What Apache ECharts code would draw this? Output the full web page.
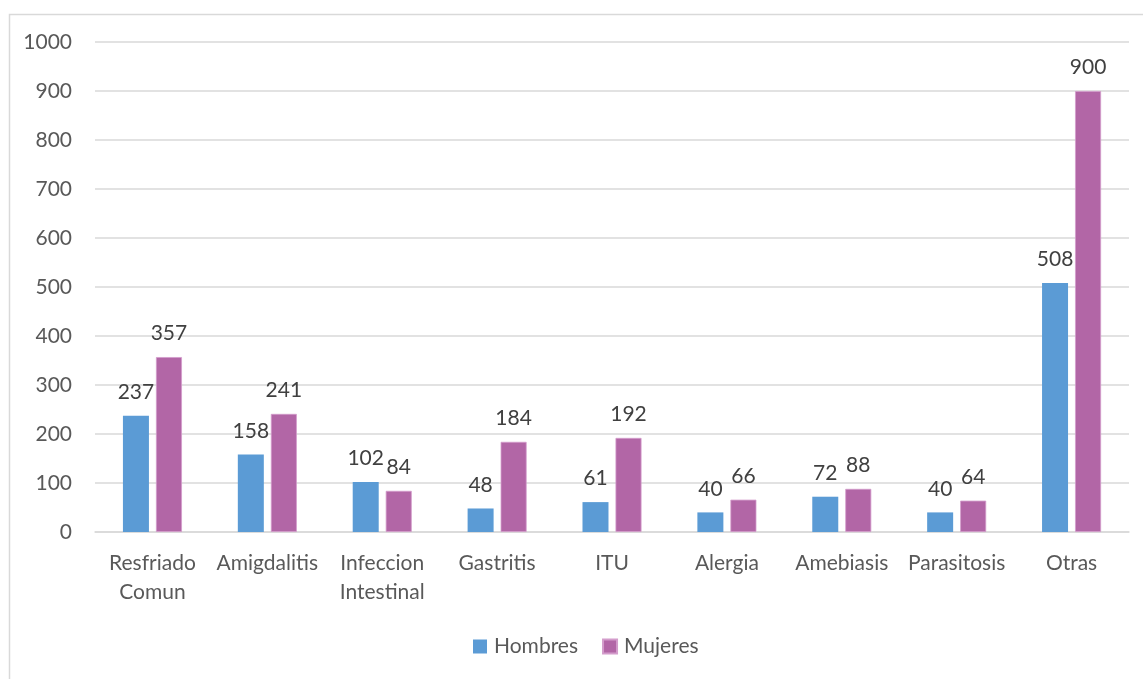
<!DOCTYPE html>
<html>
<head>
<meta charset="utf-8">
<script src="https://cdn.jsdelivr.net/npm/echarts@6/dist/echarts.min.js"></script>
<style>
  html, body { margin: 0; padding: 0; background: #ffffff; }
  #chart { width: 1143px; height: 679px; }
</style>
</head>
<body>
<div id="chart"></div>
<script>
// Consultas por diagnóstico, separadas por sexo
const categories = ['Resfriado\nComun', 'Amigdalitis', 'Infeccion\nIntestinal', 'Gastritis', 'ITU', 'Alergia', 'Amebiasis', 'Parasitosis', 'Otras'];
const hombres = [237, 158, 102, 48, 61, 40, 72, 40, 508];
const mujeres = [357, 241, 84, 184, 192, 66, 88, 64, 900];
const seriesNames = ['Hombres', 'Mujeres'];

const FONT = 'Lato, "Open Sans", sans-serif';
const chart = echarts.init(document.getElementById('chart'), null, { renderer: 'canvas' });

const labelStyle = {
  show: true,
  position: 'top',
  distance: 13,
  color: '#404040',
  fontSize: 21,
  fontFamily: FONT
};

chart.setOption({
  animation: false,
  textStyle: { fontFamily: FONT },
  graphic: [{
    type: 'rect',
    left: 7,
    top: 12,
    shape: { width: 1200, height: 720 },
    style: { fill: 'none', stroke: '#d9d9d9', lineWidth: 1.5 },
    silent: true,
    z: -1
  }],
  grid: { left: 95, right: 14, top: 42, bottom: 147, containLabel: false },
  legend: {
    data: seriesNames,
    bottom: 17,
    left: 468,
    itemWidth: 14,
    itemHeight: 14,
    itemGap: 24,
    icon: 'rect',
    textStyle: { color: '#595959', fontSize: 21, fontFamily: FONT, padding: [0, 0, 0, 2] }
  },
  xAxis: {
    type: 'category',
    data: categories,
    axisLine: { show: true, lineStyle: { color: '#d9d9d9', width: 1.5 } },
    axisTick: { show: false },
    axisLabel: {
      color: '#595959',
      fontSize: 21,
      fontFamily: FONT,
      margin: 17,
      lineHeight: 29,
      interval: 0
    }
  },
  yAxis: {
    type: 'value',
    min: 0,
    max: 1000,
    interval: 100,
    axisLine: { show: false },
    axisTick: { show: false },
    splitLine: { lineStyle: { color: '#d9d9d9', width: 1.5 } },
    axisLabel: {
      color: '#595959',
      fontSize: 21,
      fontFamily: FONT,
      margin: 23,
      formatter: (v) => String(v)
    }
  },
  series: [
    {
      name: seriesNames[0],
      type: 'bar',
      data: hombres,
      barWidth: 26,
      barGap: '27%',
      itemStyle: { color: '#5b9bd5' },
      label: labelStyle
    },
    {
      name: seriesNames[1],
      type: 'bar',
      data: mujeres,
      barWidth: 26,
      barGap: '27%',
      itemStyle: { color: '#b266a6', borderColor: '#d39ccb', borderWidth: 0.8 },
      label: labelStyle
    }
  ]
});
</script>
</body>
</html>
